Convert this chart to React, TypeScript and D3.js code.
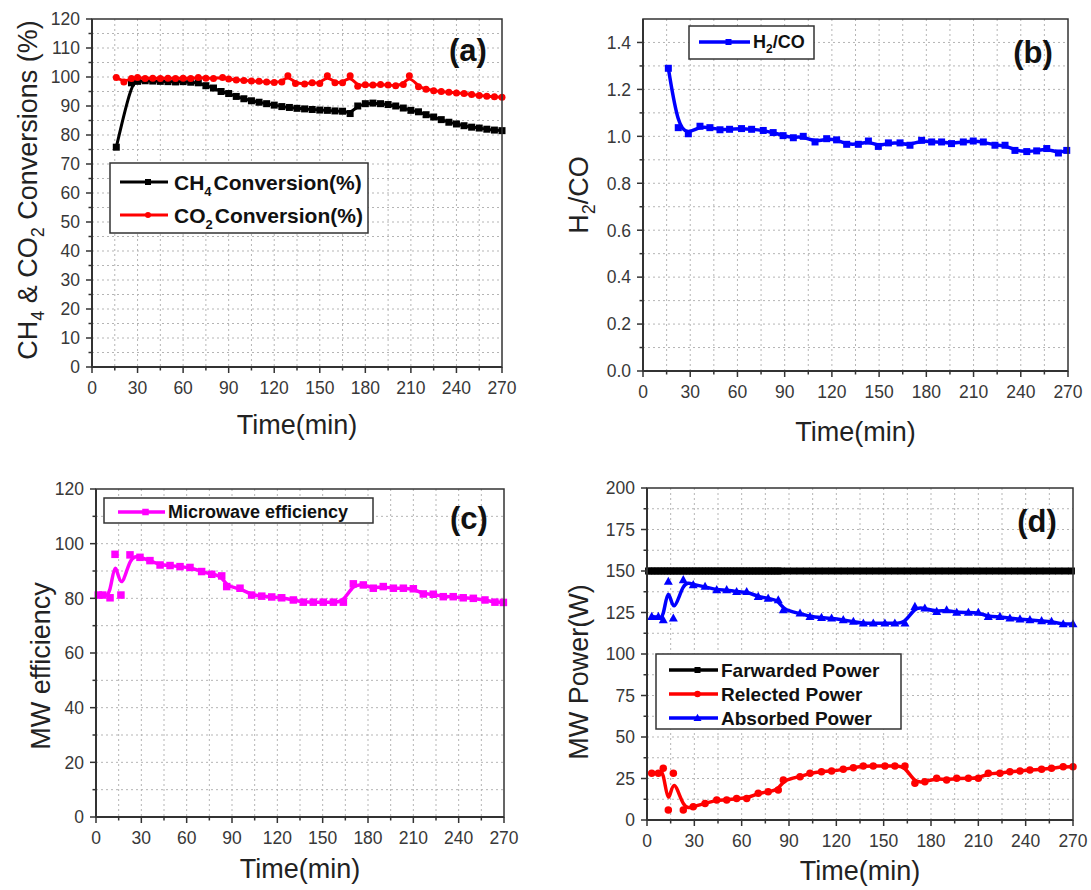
import React from 'react';
import * as d3 from 'd3';

const FONT = "Arial, 'Liberation Sans', Helvetica, sans-serif";

// ---------- Panel (a) ----------
const CH4_TIME = [16, 26, 30, 35, 40, 45, 50, 55, 60, 65, 70, 75, 80, 85, 90, 95, 100, 105, 110, 115, 120, 125, 130, 135, 140, 145, 150, 155, 160, 165, 170, 175, 180, 185, 190, 195, 200, 205, 210, 215, 220, 225, 230, 235, 240, 245, 250, 255, 260, 265, 270];
const CH4_VAL = [75.8, 98, 98.5, 98.7, 98.6, 98.5, 98.4, 98.3, 98.4, 98.2, 98, 97, 96.2, 95, 94.3, 93.3, 92.5, 91.8, 91.3, 90.8, 90.3, 89.8, 89.5, 89.2, 89, 88.8, 88.6, 88.5, 88.3, 88.2, 87.4, 90, 90.8, 91, 90.8, 90.5, 90, 89.3, 88.5, 88, 87, 86.2, 85.3, 84.4, 83.8, 83.2, 82.7, 82.4, 82, 81.7, 81.5];
const CO2_TIME = [16, 21, 26, 30, 35, 40, 45, 50, 55, 60, 65, 70, 75, 80, 86, 90, 95, 100, 105, 110, 115, 120, 125, 129, 134, 140, 145, 150, 155, 160, 165, 170, 175, 180, 185, 190, 195, 200, 205, 209, 215, 220, 225, 230, 235, 240, 245, 250, 255, 260, 265, 270];
const CO2_VAL = [99.8, 98.3, 99.5, 99.8, 99.5, 99.6, 99.5, 99.6, 99.5, 99.6, 99.5, 99.8, 99.6, 99.5, 99.8, 99.3, 99, 98.8, 98.6, 98.5, 98.3, 98.1, 98.3, 100.4, 97.8, 97.6, 98, 97.8, 100.4, 98, 98, 100.4, 96.8, 97.3, 97.2, 97.4, 97.2, 97, 97.4, 100.4, 96.6, 95.8, 95.3, 95, 94.7, 94.5, 94.3, 94, 93.6, 93.4, 93.2, 93];

// ---------- Panel (b) ----------
const H2CO_TIME = [16.1, 22.4, 28.8, 36.2, 42.5, 48.9, 55, 62.6, 69, 76.4, 82.7, 89, 95.5, 101.8, 109.3, 116.7, 123, 129.4, 136.8, 143.2, 149.5, 155.9, 163.3, 169.6, 177, 183.4, 189.7, 196, 203.5, 209.8, 216.2, 223.6, 230, 236.3, 243.8, 250.1, 256.5, 263.9, 269.2];
const H2CO_VAL = [1.29, 1.037, 1.011, 1.043, 1.037, 1.028, 1.03, 1.033, 1.03, 1.025, 1.016, 1.003, 0.994, 1.0, 0.976, 0.99, 0.985, 0.966, 0.966, 0.98, 0.957, 0.972, 0.972, 0.962, 0.983, 0.976, 0.976, 0.969, 0.976, 0.98, 0.976, 0.962, 0.962, 0.94, 0.935, 0.938, 0.948, 0.929, 0.94];

// ---------- Panel (c) ----------
const MWE_TIME = [1.5, 4.5, 9.3, 12.6, 16.5, 22.5, 29.1, 35.7, 42.4, 49, 55.6, 62.2, 69.9, 76.6, 83.2, 86.5, 95.3, 103, 109.7, 116.3, 122.9, 130.6, 137.2, 143.8, 150.4, 157.1, 163.7, 170.3, 176.9, 183.5, 190.1, 196.8, 203.4, 210, 216.6, 223.2, 229.8, 236.4, 243, 249.7, 257.4, 264, 269.6];
const MWE_VAL = [81.2, 81.2, 80.2, 96.1, 81.2, 95.9, 95.0, 93.8, 92.2, 92.0, 91.6, 91.3, 89.8, 88.8, 88.2, 84.3, 83.7, 81.2, 80.8, 80.5, 80.2, 79.4, 78.6, 78.6, 78.6, 78.6, 78.6, 85.3, 84.9, 83.7, 84.3, 83.7, 83.7, 83.5, 81.6, 81.5, 80.6, 80.6, 80.2, 80.0, 79.4, 78.6, 78.5];

// ---------- Panel (d) ----------
const FWD_TIME = [1, 3, 5, 7, 9, 11, 13, 15, 17, 19, 21, 23, 25, 27, 29, 31, 33, 35, 37, 39, 41, 43, 45, 47, 49, 51, 53, 55, 57, 59, 61, 63, 65, 67, 69, 71, 73, 75, 77, 79, 81, 83, 85, 89, 93, 97, 101, 105, 109, 113, 117, 121, 125, 129, 133, 137, 141, 145, 149, 153, 157, 161, 165, 169, 173, 177, 181, 185, 189, 193, 197, 201, 205, 209, 213, 217, 221, 225, 229, 233, 237, 241, 245, 249, 253, 257, 261, 265, 269];
const FORWARD_POWER = 150;
const FWD_VAL = FWD_TIME.map(() => FORWARD_POWER);
const PWR_TIME = [3, 7.2, 10.3, 13.5, 16.7, 23, 29.3, 36.8, 44.2, 50.5, 56.8, 63.2, 70.5, 76.8, 83.2, 86.4, 97, 103.3, 110.6, 117, 124.4, 130.8, 137.1, 143.4, 150.8, 157.1, 163.5, 169.8, 176.1, 183.6, 189.9, 196.3, 203.7, 210, 216.3, 223.7, 230, 236.4, 242.7, 250.1, 256.4, 263.8, 270];
const REFL_VAL = [28.1, 28.1, 31.1, 6, 28.1, 6, 8, 10, 12, 12, 13, 13, 16.1, 17, 18.1, 24.1, 26.1, 28.1, 29.1, 29.5, 30.5, 31.5, 32.5, 32.5, 32.5, 32.5, 32.5, 22.1, 23.1, 25.1, 24.1, 25.1, 25.1, 25.1, 28.1, 28.1, 29.1, 29.5, 30.1, 30.5, 31.1, 32.1, 32.1];
const ABS_VAL = [122.5, 122.5, 120.5, 143.6, 121.5, 144.6, 141.6, 140.6, 138.6, 138.6, 137.5, 137.5, 134.5, 133.5, 132.5, 126.5, 124.5, 122.5, 121.9, 121.5, 120.5, 119.5, 118.5, 118.5, 118.5, 118.5, 118.5, 128.5, 127.5, 125.5, 126.5, 125, 125, 125, 122.5, 122.5, 121.5, 121, 120.5, 119.9, 119.5, 118, 118];

const X_TICKS = [0, 30, 60, 90, 120, 150, 180, 210, 240, 270];
const X_MINOR = [15, 45, 75, 105, 135, 165, 195, 225, 255];

type MarkerKind = 'square' | 'circle' | 'triangle';
type Series = { t: number[]; v: number[]; color: string; marker: MarkerKind; size: number; width: number };

function Marker({ kind, x, y, size, color }: { kind: MarkerKind; x: number; y: number; size: number; color: string }) {
  if (kind === 'square') return <rect x={x - size / 2} y={y - size / 2} width={size} height={size} fill={color} />;
  if (kind === 'circle') return <circle cx={x} cy={y} r={size / 2} fill={color} />;
  const h = size * 0.9;
  return <path d={`M${x},${y - h * 0.6}L${x + size / 2},${y + h * 0.4}L${x - size / 2},${y + h * 0.4}Z`} fill={color} />;
}

type LegendItem = { label: React.ReactNode; s: number };
type PanelCfg = {
  left: number; right: number; top: number; bottom: number;
  yDomain: [number, number]; yTicks: number[]; yMinor: number[]; yGrid: number[]; yFmt: (v: number) => string;
  series: Series[];
  legend: { x: number; y: number; w: number; h: number; lx1: number; lx2: number; tx: number; rows: number[]; fs: number; items: LegendItem[] };
  label: { text: string; x: number; y: number };
  xTitleY: number;
  yTitle: { x: number; y: number; content: React.ReactNode };
};

function Panel({ c }: { c: PanelCfg }) {
  const x = d3.scaleLinear().domain([0, 270]).range([c.left, c.right]);
  const y = d3.scaleLinear().domain(c.yDomain).range([c.bottom, c.top]);
  const line = d3.line<[number, number]>().x(d => x(d[0])).y(d => y(d[1])).curve(d3.curveBasis);
  const xGrid = d3.range(15, 270, 15);
  const axisColor = '#333';
  return (
    <g>
      {xGrid.map(g => (
        <line key={'xg' + g} x1={x(g)} x2={x(g)} y1={c.top} y2={c.bottom} stroke="#b5b5b5" strokeWidth={1} strokeDasharray="2 3" />
      ))}
      {c.yGrid.map(g => (
        <line key={'yg' + g} x1={c.left} x2={c.right} y1={y(g)} y2={y(g)} stroke="#b5b5b5" strokeWidth={1} strokeDasharray="2 3" />
      ))}
      {c.series.map((s, i) => {
        const pts: [number, number][] = s.t.map((t, k) => [t, s.v[k]]);
        return (
          <g key={'s' + i}>
            <path d={line(pts) || ''} fill="none" stroke={s.color} strokeWidth={s.width} strokeLinejoin="round" />
            {pts.map((p, k) => (
              <Marker key={k} kind={s.marker} x={x(p[0])} y={y(p[1])} size={s.size} color={s.color} />
            ))}
          </g>
        );
      })}
      <rect x={c.left} y={c.top} width={c.right - c.left} height={c.bottom - c.top} fill="none" stroke={axisColor} strokeWidth={1.5} />
      <line x1={c.left} x2={c.right} y1={c.bottom} y2={c.bottom} stroke={axisColor} strokeWidth={2} />
      <line x1={c.left} x2={c.left} y1={c.top} y2={c.bottom} stroke={axisColor} strokeWidth={2} />
      {X_TICKS.map(t => (
        <g key={'xt' + t}>
          <line x1={x(t)} x2={x(t)} y1={c.bottom} y2={c.bottom + 6} stroke={axisColor} strokeWidth={1.5} />
          <text x={x(t)} y={c.bottom + 27} textAnchor="middle" fontSize={17.5} fill="#383838" fontFamily={FONT}>{t}</text>
        </g>
      ))}
      {X_MINOR.map(t => (
        <line key={'xm' + t} x1={x(t)} x2={x(t)} y1={c.bottom} y2={c.bottom + 3.5} stroke={axisColor} strokeWidth={1.5} />
      ))}
      {c.yTicks.map(t => (
        <g key={'yt' + t}>
          <line x1={c.left - 6} x2={c.left} y1={y(t)} y2={y(t)} stroke={axisColor} strokeWidth={1.5} />
          <text x={c.left - 12} y={y(t)} dy="0.36em" textAnchor="end" fontSize={17.5} fill="#383838" fontFamily={FONT}>{c.yFmt(t)}</text>
        </g>
      ))}
      {c.yMinor.map(t => (
        <line key={'ym' + t} x1={c.left - 3.5} x2={c.left} y1={y(t)} y2={y(t)} stroke={axisColor} strokeWidth={1.5} />
      ))}
      <rect x={c.legend.x} y={c.legend.y} width={c.legend.w} height={c.legend.h} fill="#fff" stroke={axisColor} strokeWidth={1.5} />
      {c.legend.items.map((it, i) => {
        const s = c.series[it.s];
        const ry = c.legend.rows[i];
        return (
          <g key={'lg' + i}>
            <line x1={c.legend.lx1} x2={c.legend.lx2} y1={ry} y2={ry} stroke={s.color} strokeWidth={s.width} />
            <Marker kind={s.marker} x={(c.legend.lx1 + c.legend.lx2) / 2 + 4} y={ry} size={s.size - 1} color={s.color} />
            <text x={c.legend.tx} y={ry} dy="0.36em" fontSize={c.legend.fs} fontWeight="bold" fill="#111" fontFamily={FONT}>{it.label}</text>
          </g>
        );
      })}
      <text x={c.label.x} y={c.label.y} textAnchor="middle" fontSize={31} fontWeight="bold" fill="#111" fontFamily={FONT}>{c.label.text}</text>
      <text x={(c.left + c.right) / 2} y={c.xTitleY} textAnchor="middle" fontSize={27} fill="#222" fontFamily={FONT}>Time(min)</text>
      <text transform={`translate(${c.yTitle.x},${c.yTitle.y}) rotate(-90)`} textAnchor="middle" fontSize={27} fill="#222" fontFamily={FONT}>{c.yTitle.content}</text>
    </g>
  );
}

const rangeSteps = (n0: number, n1: number, step: number) => d3.range(n0, n1 + 1).map(i => +(i * step).toFixed(4));

const panelA: PanelCfg = {
  left: 92, right: 502, top: 19, bottom: 367,
  yDomain: [0, 120],
  yTicks: rangeSteps(0, 12, 10), yMinor: rangeSteps(0, 11, 10).map(v => v + 5), yGrid: rangeSteps(1, 23, 5),
  yFmt: v => String(v),
  series: [
    { t: CH4_TIME, v: CH4_VAL, color: '#000000', marker: 'square', size: 7, width: 3 },
    { t: CO2_TIME, v: CO2_VAL, color: '#ff0000', marker: 'circle', size: 7, width: 3 },
  ],
  legend: {
    x: 110, y: 163, w: 258, h: 70, lx1: 120, lx2: 168, tx: 174, rows: [182, 215], fs: 21,
    items: [
      { label: <><tspan>CH</tspan><tspan dy={6} fontSize={13}>4</tspan><tspan dy={-6} dx={2}>Conversion(%)</tspan></>, s: 0 },
      { label: <><tspan>CO</tspan><tspan dy={6} fontSize={13}>2</tspan><tspan dy={-6} dx={2}>Conversion(%)</tspan></>, s: 1 },
    ],
  },
  label: { text: '(a)', x: 468, y: 61 },
  xTitleY: 434,
  yTitle: {
    x: 37, y: 190,
    content: <><tspan>CH</tspan><tspan dy={7} fontSize={18}>4</tspan><tspan dy={-7}> &amp; CO</tspan><tspan dy={7} fontSize={18}>2</tspan><tspan dy={-7}> Conversions (%)</tspan></>,
  },
};

const panelB: PanelCfg = {
  left: 643, right: 1068, top: 19, bottom: 371,
  yDomain: [0, 1.5],
  yTicks: rangeSteps(0, 7, 0.2), yMinor: rangeSteps(0, 6, 0.2).map(v => +(v + 0.1).toFixed(2)), yGrid: rangeSteps(1, 14, 0.1),
  yFmt: d3.format('.1f'),
  series: [
    { t: H2CO_TIME, v: H2CO_VAL, color: '#0000ff', marker: 'square', size: 7, width: 3.5 },
  ],
  legend: {
    x: 689, y: 26, w: 125, h: 33, lx1: 699, lx2: 750, tx: 753, rows: [42], fs: 18,
    items: [
      { label: <><tspan>H</tspan><tspan dy={5} fontSize={12}>2</tspan><tspan dy={-5}>/CO</tspan></>, s: 0 },
    ],
  },
  label: { text: '(b)', x: 1033, y: 63 },
  xTitleY: 441,
  yTitle: {
    x: 588, y: 195,
    content: <><tspan>H</tspan><tspan dy={7} fontSize={18}>2</tspan><tspan dy={-7}>/CO</tspan></>,
  },
};

const panelC: PanelCfg = {
  left: 96, right: 504, top: 489, bottom: 817,
  yDomain: [0, 120],
  yTicks: rangeSteps(0, 6, 20), yMinor: rangeSteps(0, 5, 20).map(v => v + 10), yGrid: rangeSteps(1, 11, 10),
  yFmt: v => String(v),
  series: [
    { t: MWE_TIME, v: MWE_VAL, color: '#ff00ff', marker: 'square', size: 7.5, width: 3.5 },
  ],
  legend: {
    x: 104, y: 498, w: 269, h: 25, lx1: 118, lx2: 165, tx: 168, rows: [512], fs: 18,
    items: [{ label: 'Microwave efficiency', s: 0 }],
  },
  label: { text: '(c)', x: 469, y: 529 },
  xTitleY: 878,
  yTitle: { x: 50, y: 666, content: 'MW efficiency' },
};

const panelD: PanelCfg = {
  left: 647, right: 1073, top: 488, bottom: 820,
  yDomain: [0, 200],
  yTicks: rangeSteps(0, 8, 25), yMinor: rangeSteps(0, 7, 25).map(v => v + 12.5), yGrid: rangeSteps(1, 15, 12.5),
  yFmt: v => String(v),
  series: [
    { t: FWD_TIME, v: FWD_VAL, color: '#000000', marker: 'square', size: 7, width: 3.5 },
    { t: PWR_TIME, v: REFL_VAL, color: '#ff0000', marker: 'circle', size: 7.5, width: 3.5 },
    { t: PWR_TIME, v: ABS_VAL, color: '#0000ff', marker: 'triangle', size: 9, width: 3.5 },
  ],
  legend: {
    x: 656, y: 654, w: 245, h: 75, lx1: 669, lx2: 718, tx: 721, rows: [670, 694, 718], fs: 19,
    items: [
      { label: 'Farwarded Power', s: 0 },
      { label: 'Relected Power', s: 1 },
      { label: 'Absorbed Power', s: 2 },
    ],
  },
  label: { text: '(d)', x: 1037, y: 532 },
  xTitleY: 880,
  yTitle: { x: 588, y: 672, content: 'MW Power(W)' },
};

export default function App() {
  return (
    <svg width={1091} height={890} style={{ position: 'absolute', left: 0, top: 0, background: '#fff' }}>
      <rect x={0} y={0} width={1091} height={890} fill="#fff" />
      <Panel c={panelA} />
      <Panel c={panelB} />
      <Panel c={panelC} />
      <Panel c={panelD} />
    </svg>
  );
}
